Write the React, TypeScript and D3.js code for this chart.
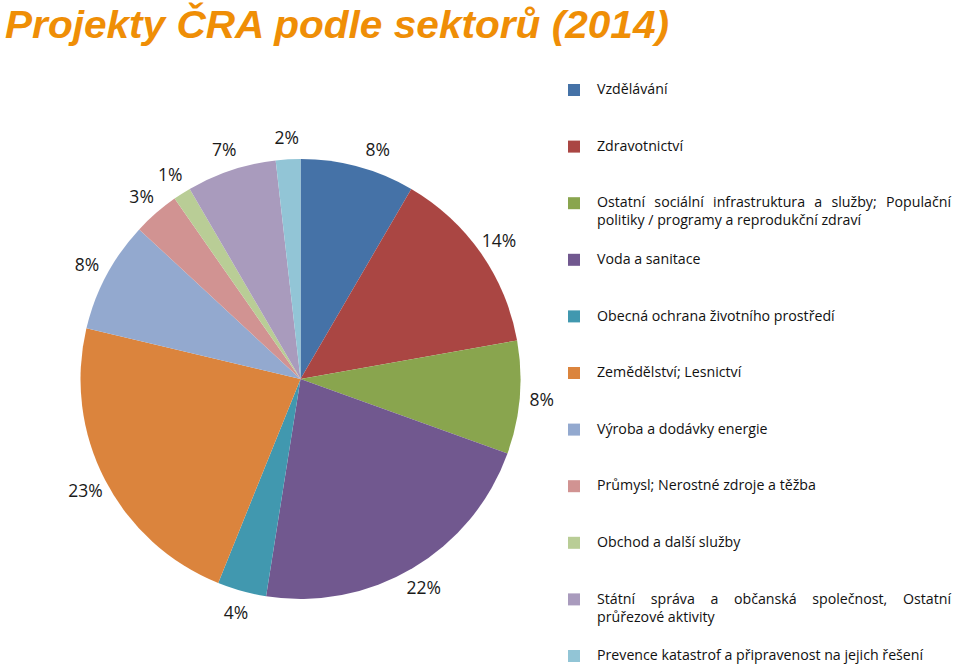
import { useEffect, useRef } from "react";
import * as d3 from "d3";

// sector names (legend order = slice order, clockwise from 12 o'clock)
const SECTORS = [
  "Vzdělávání",
  "Zdravotnictví",
  "Ostatní sociální infrastruktura a služby; Populační politiky / programy a reprodukční zdraví",
  "Voda a sanitace",
  "Obecná ochrana životního prostředí",
  "Zemědělství; Lesnictví",
  "Výroba a dodávky energie",
  "Průmysl; Nerostné zdroje a těžba",
  "Obchod a další služby",
  "Státní správa a občanská společnost, Ostatní průřezové aktivity",
  "Prevence katastrof a připravenost na jejich řešení",
];

// legend lines where the entry wraps
const LEGEND_LINES = [
  ["Vzdělávání"],
  ["Zdravotnictví"],
  ["Ostatní sociální infrastruktura a služby; Populační", "politiky / programy a reprodukční zdraví"],
  ["Voda a sanitace"],
  ["Obecná ochrana životního prostředí"],
  ["Zemědělství; Lesnictví"],
  ["Výroba a dodávky energie"],
  ["Průmysl; Nerostné zdroje a těžba"],
  ["Obchod a další služby"],
  ["Státní správa a občanská společnost, Ostatní", "průřezové aktivity"],
  ["Prevence katastrof a připravenost na jejich řešení"],
];

const SHARES = [8.4, 13.8, 8.3, 22.0, 3.6, 22.6, 8.2, 3.4, 1.3, 6.6, 1.8];

const COLORS = [
  "#4572a7", "#aa4643", "#89a54e", "#71588f", "#4198af", "#db843d",
  "#93a9cf", "#d19392", "#b9cd96", "#a99bbd", "#92c5d6",
];

export default function App() {
  const svgRef = useRef<SVGSVGElement>(null);

  useEffect(() => {
    if (!svgRef.current) return;
    const svg = d3.select(svgRef.current);
    svg.selectAll("*").remove();

    // title
    svg.append("text")
      .attr("x", 5)
      .attr("y", 38)
      .attr("font-family", "'Liberation Sans', Arial, sans-serif")
      .attr("font-weight", "bold")
      .attr("font-style", "italic")
      .attr("font-size", 38)
      .attr("fill", "#ef8e06")
      .attr("textLength", 664)
      .attr("lengthAdjust", "spacingAndGlyphs")
      .text("Projekty ČRA podle sektorů (2014)");

    // pie
    const cx = 300.5, cy = 379, r = 220;
    const pie = d3.pie<number>().sort(null).value((d) => d);
    const arcs = pie(SHARES);
    const arc = d3.arc<d3.PieArcDatum<number>>().innerRadius(0).outerRadius(r);
    const labelArc = d3.arc<d3.PieArcDatum<number>>().innerRadius(242).outerRadius(242);

    const g = svg.append("g").attr("transform", `translate(${cx},${cy})`);
    g.selectAll("path")
      .data(arcs)
      .join("path")
      .attr("d", arc)
      .attr("fill", (_, i) => COLORS[i]);

    g.selectAll("text")
      .data(arcs)
      .join("text")
      .attr("transform", (d, i) => {
        const [x, y] = labelArc.centroid(d);
        // first label sits a little clockwise in the original
        return i === 0 ? `translate(${x + 14},${y + 4})` : `translate(${x},${y})`;
      })
      .attr("text-anchor", "middle")
      .attr("dy", "0.36em")
      .attr("font-family", "'Open Sans', sans-serif")
      .attr("font-size", 17.5)
      .attr("fill", "#1a1a1a")
      .text((d) => `${Math.round(d.data)}%`);

    // legend
    const ly = d3.scaleLinear().domain([0, SECTORS.length - 1]).range([89, 655]);
    const legendX = 597, legendRight = 951;
    SECTORS.forEach((name, i) => {
      const y0 = ly(i);
      svg.append("rect")
        .attr("x", 568)
        .attr("y", y0 - 5)
        .attr("width", 12)
        .attr("height", 12)
        .attr("fill", COLORS[i]);
      const lines = LEGEND_LINES[i];
      lines.forEach((line, j) => {
        const t = svg.append("text")
          .attr("x", legendX)
          .attr("y", y0 + j * 18)
          .attr("dy", "0.36em")
          .attr("font-family", "'Open Sans', sans-serif")
          .attr("font-size", 14.2)
          .attr("fill", "#111")
          .text(line);
        // justify the first line of wrapped entries
        if (lines.length > 1 && j === 0) {
          const w = (t.node() as SVGTextElement).getComputedTextLength();
          const spaces = line.split(" ").length - 1;
          if (spaces > 0 && w < legendRight - legendX) {
            t.attr("word-spacing", (legendRight - legendX - w) / spaces);
          }
        }
      });
    });
  }, []);

  return (
    <svg
      ref={svgRef}
      width={959}
      height={664}
      style={{ position: "absolute", left: 0, top: 0, background: "#fff" }}
    />
  );
}
